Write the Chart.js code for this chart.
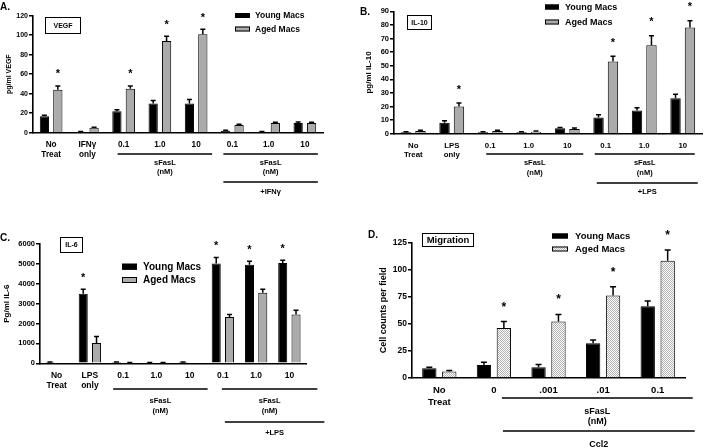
<!DOCTYPE html>
<html><head><meta charset="utf-8">
<script src="https://cdn.jsdelivr.net/npm/chart.js@4/dist/chart.umd.min.js"></script>
<style>
html,body{margin:0;padding:0;background:#fff;}
#wrap{position:relative;width:706px;height:448px;overflow:hidden;background:#fff;}
canvas{position:absolute;}
</style></head><body>
<div id="wrap">
<canvas id="cA" width="353" height="225" style="left:0px;top:0px;width:353px;height:225px"></canvas>
<canvas id="cB" width="353" height="225" style="left:353px;top:0px;width:353px;height:225px"></canvas>
<canvas id="cC" width="353" height="223" style="left:0px;top:225px;width:353px;height:223px"></canvas>
<canvas id="cD" width="353" height="223" style="left:353px;top:225px;width:353px;height:223px"></canvas>
</div>
<script>
const FONT = "'Liberation Sans', Arial, Helvetica, sans-serif";

// ---------- Panel A: VEGF ----------
const labelsA = [["No","Treat"],["IFNγ","only"],"0.1","1.0","10","0.1","1.0","10"];
const youngA = [17, 1, 22, 30, 30, 2, 1, 10];
const youngErrA = [1, 0.3, 1.5, 3, 4, 0.5, 0.3, 1];
const agedA = [44, 5, 45, 94, 101, 8, 10, 10];
const agedErrA = [4, 0.6, 3, 5, 5, 0.6, 0.6, 0.6];
const starsAgedA = [0, 2, 3, 4];
const yMaxA = 120, yStepA = 20;

// ---------- Panel B: IL-10 ----------
const labelsB = [["No","Treat"],["LPS","only"],"0.1","1.0","10","0.1","1.0","10"];
const youngB = [1, 8, 1, 1, 4, 12, 17, 26];
const youngErrB = [0.4, 1.5, 0.4, 0.4, 0.6, 2, 2, 3];
const agedB = [2, 20, 2, 1.5, 3.5, 53, 65, 78];
const agedErrB = [0.5, 2.5, 0.5, 0.4, 0.6, 4, 7, 5];
const starsAgedB = [1, 5, 6, 7];
const yMaxB = 90, yStepB = 10;

// ---------- Panel C: IL-6 ----------
const labelsC = [["No","Treat"],["LPS","only"],"0.1","1.0","10","0.1","1.0","10"];
const youngC = [60, 3500, 60, 30, 60, 5020, 4960, 5050];
const youngErrC = [10, 220, 10, 5, 10, 300, 170, 130];
const agedC = [0, 1020, 30, 30, 0, 2330, 3550, 2450];
const agedErrC = [0, 330, 5, 5, 0, 120, 170, 220];
const starsYoungC = [1, 5, 6, 7];
const yMaxC = 6000, yStepC = 1000;

// ---------- Panel D: Migration ----------
const labelsD = [["No","Treat"],"0",".001",".01","0.1"];
const youngD = [9, 12, 10, 32, 66];
const youngErrD = [1, 2.5, 2.5, 3, 5];
const agedD = [6, 46, 52, 76, 108];
const agedErrD = [1, 6, 6.5, 8, 10];
const starsAgedD = [1, 2, 3, 4];
const yMaxD = 125, yStepD = 25;

function dotPattern() {
  const c = document.createElement('canvas');
  c.width = 2; c.height = 2;
  const g = c.getContext('2d');
  g.fillStyle = '#ffffff'; g.fillRect(0,0,2,2);
  g.fillStyle = '#b0b0b0'; g.fillRect(0,0,1,1); g.fillRect(1,1,1,1);
  return g.createPattern(c, 'repeat');
}

const deco = {
  id: 'deco',
  afterDatasetsDraw(chart, args, o) {
    const ctx = chart.ctx;
    const xs = chart.scales.x, ys = chart.scales.y;
    ctx.save();
    chart.data.datasets.forEach((ds, di) => {
      const meta = chart.getDatasetMeta(di);
      meta.data.forEach((bar, i) => {
        const v = ds.data[i], e = ds.err[i];
        const base = ys.getPixelForValue(v);
        const top = ys.getPixelForValue(v + e);
        if (e > 0) {
          ctx.strokeStyle = '#000'; ctx.lineWidth = o.errW;
          ctx.beginPath();
          ctx.moveTo(bar.x, base); ctx.lineTo(bar.x, top);
          ctx.moveTo(bar.x - o.cap, top); ctx.lineTo(bar.x + o.cap, top);
          ctx.stroke();
        }
        if ((ds.stars || []).includes(i)) {
          ctx.fillStyle = '#000';
          ctx.font = 'bold ' + o.starSize + 'px ' + FONT;
          ctx.textAlign = 'center'; ctx.textBaseline = 'alphabetic';
          ctx.fillText('*', bar.x, top - o.starOff);
        }
      });
    });
    ctx.strokeStyle = '#000'; ctx.fillStyle = '#000';
    o.brackets.forEach(b => {
      const x1 = xs.getPixelForValue(b.a) + b.dl;
      const x2 = xs.getPixelForValue(b.b) + b.dr;
      ctx.lineWidth = 1.6;
      ctx.beginPath(); ctx.moveTo(x1, b.y); ctx.lineTo(x2, b.y); ctx.stroke();
      ctx.font = 'bold ' + o.brSize + 'px ' + FONT;
      ctx.textAlign = 'center'; ctx.textBaseline = 'middle';
      b.text.forEach((t, k) => ctx.fillText(t, (x1 + x2) / 2, b.ty[k]));
    });
    const tb = o.titleBox;
    ctx.lineWidth = 1; ctx.strokeStyle = '#000';
    ctx.strokeRect(tb.x + 0.5, tb.y + 0.5, tb.w, tb.h);
    ctx.font = 'bold ' + tb.size + 'px ' + FONT;
    ctx.textAlign = 'center'; ctx.textBaseline = 'middle';
    ctx.fillText(tb.text, tb.x + tb.w / 2 + 0.5, tb.y + tb.h / 2 + 1);
    const lg = o.legend;
    chart.data.datasets.forEach((ds, di) => {
      const yy = lg.y[di];
      ctx.fillStyle = ds.backgroundColor;
      ctx.fillRect(lg.x, yy - lg.bh / 2, lg.bw, lg.bh);
      ctx.strokeStyle = '#000'; ctx.lineWidth = 1;
      ctx.strokeRect(lg.x + 0.5, yy - lg.bh / 2 + 0.5, lg.bw - 1, lg.bh - 1);
      ctx.fillStyle = '#000';
      ctx.font = 'bold ' + lg.size + 'px ' + FONT;
      ctx.textAlign = 'left'; ctx.textBaseline = 'middle';
      ctx.fillText(ds.label, lg.tx, yy + 0.5);
    });
    const L = o.letter;
    ctx.font = 'bold ' + L.size + 'px ' + FONT;
    ctx.textAlign = 'left'; ctx.textBaseline = 'middle';
    ctx.fillText(L.text, L.x, L.y);
    ctx.restore();
  }
};

function makePanel(id, p) {
  const cv = document.getElementById(id);
  const W = cv.width, H = cv.height;
  return new Chart(cv, {
    type: 'bar',
    data: {
      labels: p.labels,
      datasets: [
        { label: 'Young Macs', data: p.young, err: p.youngErr, stars: p.starsYoung || [],
          backgroundColor: '#000000', borderColor: '#000000', borderWidth: 1,
          categoryPercentage: p.cp, barPercentage: p.bp },
        { label: 'Aged Macs', data: p.aged, err: p.agedErr, stars: p.starsAged || [],
          backgroundColor: p.agedFill, borderColor: '#000000', borderWidth: 1,
          categoryPercentage: p.cp, barPercentage: p.bp }
      ]
    },
    options: {
      responsive: false, animation: false, devicePixelRatio: 1,
      layout: { padding: { left: 0, top: p.area.top, right: W - p.area.right, bottom: 0 } },
      plugins: { legend: { display: false }, tooltip: { enabled: false }, deco: p.deco },
      scales: {
        x: {
          grid: { display: false, drawTicks: false },
          border: { display: true, color: '#000', width: 1.6 },
          ticks: { color: '#000', padding: p.xPad, maxRotation: 0, autoSkip: false,
                   font: { family: FONT, size: p.xFont, weight: 'bold', lineHeight: 1.2 } },
          afterFit(s) { s.height = H - p.area.bottom; }
        },
        y: {
          min: 0, max: p.yMax,
          grid: { display: true, drawOnChartArea: false, drawTicks: true, tickLength: 4, color: '#000', lineWidth: 1.5 },
          border: { display: true, color: '#000', width: 1.6 },
          ticks: { stepSize: p.yStep, color: '#000', padding: 1,
                   callback: (v) => String(v),
                   font: { family: FONT, size: p.yFont, weight: 'bold' } },
          title: { display: true, text: p.yTitle, color: '#000', padding: { top: p.titlePad, bottom: 0 },
                   font: { family: FONT, size: p.yTitleSize, weight: 'bold' } },
          afterFit(s) { s.width = p.area.left; }
        }
      }
    },
    plugins: [deco]
  });
}

makePanel('cA', {
  labels: labelsA, young: youngA, youngErr: youngErrA, aged: agedA, agedErr: agedErrA,
  starsAged: starsAgedA, yMax: yMaxA, yStep: yStepA, yTitle: 'pg/ml VEGF',
  agedFill: '#ababab', cp: 0.74, bp: 0.69,
  area: { left: 33, right: 323, top: 15.7, bottom: 132.7 },
  xPad: 7, xFont: 8.2, yFont: 7, yTitleSize: 7, titlePad: 5,
  deco: {
    errW: 1.5, cap: 2.5, starSize: 11, starOff: 8.5,
    brSize: 7.5,
    brackets: [
      { a: 2, b: 4, dl: -6, dr: 16, y: 154, text: ['sFasL', '(nM)'], ty: [163, 172] },
      { a: 5, b: 7, dl: -9, dr: 13, y: 154, text: ['sFasL', '(nM)'], ty: [163, 172] },
      { a: 5, b: 7, dl: -9, dr: 13, y: 182, text: ['+IFNγ'], ty: [192] }
    ],
    titleBox: { x: 45, y: 17, w: 35, h: 16, text: 'VEGF', size: 7 },
    legend: { x: 235, bw: 15, bh: 5, tx: 255, y: [15.5, 29], size: 8.5 },
    letter: { text: 'A.', x: 0, y: 7, size: 10 }
  }
});

makePanel('cB', {
  labels: labelsB, young: youngB, youngErr: youngErrB, aged: agedB, agedErr: agedErrB,
  starsAged: starsAgedB, yMax: yMaxB, yStep: yStepB, yTitle: 'pg/ml IL-10',
  agedFill: '#ababab', cp: 0.75, bp: 0.72,
  area: { left: 41, right: 349, top: 11.3, bottom: 133.7 },
  xPad: 7, xFont: 7.8, yFont: 7.5, yTitleSize: 8, titlePad: 11,
  deco: {
    errW: 1.5, cap: 2.5, starSize: 11, starOff: 10.5,
    brSize: 7.5,
    brackets: [
      { a: 2, b: 4, dl: -4, dr: 16, y: 154, text: ['sFasL', '(nM)'], ty: [163, 173] },
      { a: 5, b: 7, dl: -11, dr: 12, y: 154, text: ['sFasL', '(nM)'], ty: [163, 173] },
      { a: 5, b: 7, dl: -9, dr: 15, y: 183, text: ['+LPS'], ty: [192] }
    ],
    titleBox: { x: 54, y: 15, w: 24, h: 14, text: 'IL-10', size: 7 },
    legend: { x: 192, bw: 14, bh: 5, tx: 212, y: [7, 22], size: 9 },
    letter: { text: 'B.', x: 7, y: 12, size: 10 }
  }
});

makePanel('cC', {
  labels: labelsC, young: youngC, youngErr: youngErrC, aged: agedC, agedErr: agedErrC,
  starsYoung: starsYoungC, yMax: yMaxC, yStep: yStepC, yTitle: 'Pg/ml IL-6',
  agedFill: '#ababab', cp: 0.8, bp: 0.68,
  area: { left: 40, right: 306, top: 19, bottom: 138.3 },
  xPad: 7.5, xFont: 8.5, yFont: 7.5, yTitleSize: 8, titlePad: 2,
  deco: {
    errW: 1.5, cap: 2.5, starSize: 11, starOff: 8.5,
    brSize: 7.5,
    brackets: [
      { a: 2, b: 4, dl: -10, dr: 18, y: 164, text: ['sFasL', '(nM)'], ty: [176, 186] },
      { a: 5, b: 7, dl: -1, dr: 28, y: 164, text: ['sFasL', '(nM)'], ty: [176, 186] },
      { a: 5, b: 7, dl: 2, dr: 35, y: 197, text: ['+LPS'], ty: [208] }
    ],
    titleBox: { x: 60, y: 12, w: 22, h: 15, text: 'IL-6', size: 7 },
    legend: { x: 122, bw: 15, bh: 6, tx: 143, y: [41.7, 55], size: 10 },
    letter: { text: 'C.', x: 0, y: 13, size: 10 }
  }
});

makePanel('cD', {
  labels: labelsD, young: youngD, youngErr: youngErrD, aged: agedD, agedErr: agedErrD,
  starsAged: starsAgedD, yMax: yMaxD, yStep: yStepD, yTitle: 'Cell counts per field',
  agedFill: dotPattern(), cp: 0.73, bp: 0.72,
  area: { left: 59, right: 332, top: 17.3, bottom: 153 },
  xPad: 7, xFont: 9.5, yFont: 8.5, yTitleSize: 9, titlePad: 25,
  deco: {
    errW: 1.5, cap: 3, starSize: 12, starOff: 11,
    brSize: 9,
    brackets: [
      { a: 1, b: 4, dl: 8, dr: 35, y: 173, text: ['sFasL', '(nM)'], ty: [187, 197] },
      { a: 1, b: 4, dl: 9, dr: 37, y: 206, text: ['Ccl2'], ty: [220] }
    ],
    titleBox: { x: 69, y: 8, w: 51, h: 13, text: 'Migration', size: 9.5 },
    legend: { x: 199, bw: 16, bh: 5, tx: 222, y: [11, 24], size: 9.5 },
    letter: { text: 'D.', x: 15, y: 10, size: 10 }
  }
});
</script>
</body></html>
